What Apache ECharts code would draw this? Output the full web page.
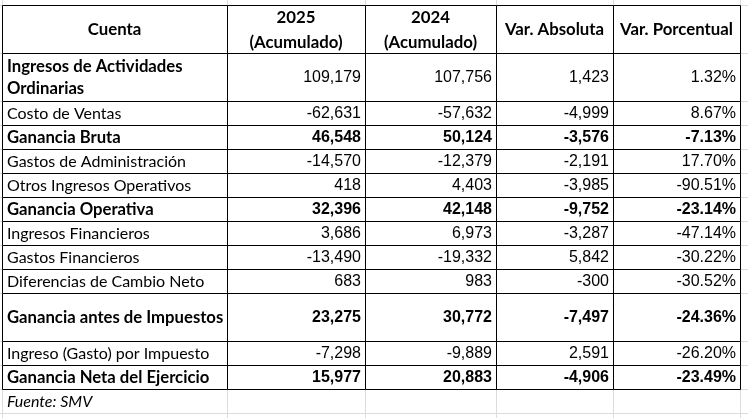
<!DOCTYPE html>
<html>
<head>
<meta charset="utf-8">
<script src="https://cdn.jsdelivr.net/npm/echarts@6/dist/echarts.min.js"></script>
<style>
html, body { margin: 0; padding: 0; background: #fff; }
#chart { width: 748px; height: 418px; }
</style>
</head>
<body>
<div id="chart"></div>
<script>
// datos de la tabla
var encabezados = ["Cuenta", "2025\n(Acumulado)", "2024\n(Acumulado)", "Var. Absoluta", "Var. Porcentual"];
var cuentas = [
    "Ingresos de Actividades Ordinarias", "Costo de Ventas", "Ganancia Bruta",
    "Gastos de Administración", "Otros Ingresos Operativos", "Ganancia Operativa",
    "Ingresos Financieros", "Gastos Financieros", "Diferencias de Cambio Neto",
    "Ganancia antes de Impuestos", "Ingreso (Gasto) por Impuesto", "Ganancia Neta del Ejercicio"
];
var acum2025 = [109179, -62631, 46548, -14570, 418, 32396, 3686, -13490, 683, 23275, -7298, 15977];
var acum2024 = [107756, -57632, 50124, -12379, 4403, 42148, 6973, -19332, 983, 30772, -9889, 20883];
var varAbsoluta = [1423, -4999, -3576, -2191, -3985, -9752, -3287, 5842, -300, -7497, 2591, -4906];
var varPorcentual = [1.32, 8.67, -7.13, 17.70, -90.51, -23.14, -47.14, -30.22, -30.52, -24.36, -26.20, -23.49];
var cuentaNegrita = [true, false, true, false, false, true, false, false, false, true, false, true];
var valorNegrita = [false, false, true, false, false, true, false, false, false, true, false, true];
var fuente = "Fuente: SMV";

// disposicion (unidades de eje)
var bordesCol = [0, 225, 363, 494, 611, 738];
var altoEncabezado = 2;
var altoFilas = [2, 1, 1, 1, 1, 1, 1, 1, 1, 2, 1, 1];

var inicioFila = [];
var acc = altoEncabezado;
altoFilas.forEach(function (h) { inicioFila.push(acc); acc += h; });
var finTabla = acc;

var fontTexto = "'Lato', 'Noto Sans', sans-serif";
var fontNum = "'Liberation Sans', Arial, sans-serif";

function fmtNum(v) { return v.toLocaleString("en-US"); }
function fmtPct(v) { return v.toFixed(2) + "%"; }

function px(v) { return Math.round(v) + 0.5; }

function linea(x1, y1, x2, y2, color) {
    return {
        type: "line",
        shape: { x1: x1, y1: y1, x2: x2, y2: y2 },
        style: { stroke: color, lineWidth: 1 }
    };
}

function celdas(y0, y1, textos, boldLabel, boldNum, header, api) {
    var out = [];
    var top = api.coord([0, y0])[1], bot = api.coord([0, y1])[1];
    var cy = (top + bot) / 2 + 1;
    var alta = (y1 - y0) > 1;
    for (var c = 0; c < textos.length; c++) {
        var xl = api.coord([bordesCol[c], 0])[0], xr = api.coord([bordesCol[c + 1], 0])[0];
        out.push({
            type: "rect",
            shape: { x: px(xl), y: px(top), width: Math.round(xr - xl), height: Math.round(bot - top) },
            style: { fill: "#fff", stroke: "#000", lineWidth: 1 }
        });
        var x, align, font;
        if (header) {
            x = (xl + xr) / 2; align = "center";
            font = "bold 16.8px " + fontTexto;
        } else if (c === 0) {
            x = xl + 5; align = "left";
            font = boldLabel ? "bold 16.7px " + fontTexto : "16px " + fontTexto;
        } else {
            x = xr - 4; align = "right";
            font = (boldNum ? "bold " : "") + "16px " + fontNum;
        }
        var st = {
            text: textos[c], x: x, y: cy, align: align, verticalAlign: "middle",
            font: font, fill: "#000", lineHeight: header ? 25 : 22
        };
        if (alta && !header && c === 0) {
            st.width = xr - xl - 6;
            st.overflow = "break";
        }
        out.push({ type: "text", style: st });
    }
    return out;
}

var chart = echarts.init(document.getElementById("chart"), null, { renderer: "canvas" });

var option = {
    backgroundColor: "#fff",
    animation: false,
    grid: { left: 0, right: 0, top: 0, bottom: 0 },
    xAxis: { type: "value", min: -2, max: 746, show: false },
    yAxis: { type: "value", inverse: true, min: -5 / 24, max: 413 / 24, show: false },
    series: [{
        // cuadricula de fondo tipo hoja de calculo
        type: "custom",
        data: [0],
        silent: true,
        renderItem: function (params, api) {
            var ch = [];
            var gris = "#dcdcdc";
            var yTop = api.coord([0, -1])[1], yBot = api.coord([0, 18])[1];
            bordesCol.forEach(function (b) {
                var x = px(api.coord([b, 0])[0]);
                ch.push(linea(x, yTop, x, yBot, gris));
            });
            var xL = api.coord([-2, 0])[0], xR = api.coord([746, 0])[0];
            var filas = [0, altoEncabezado].concat(inicioFila.slice(1), [finTabla, finTabla + 1]);
            filas.forEach(function (r) {
                var y = px(api.coord([0, r])[1]);
                ch.push(linea(xL, y, xR, y, gris));
            });
            return { type: "group", children: ch };
        },
        z: 1
    }, {
        // tabla
        type: "custom",
        data: [-1].concat(cuentas.map(function (d, i) { return i; })),
        silent: true,
        renderItem: function (params, api) {
            var i = api.value(0);
            var ch;
            if (i < 0) {
                ch = celdas(0, altoEncabezado, encabezados, true, true, true, api);
            } else {
                var textos = [cuentas[i], fmtNum(acum2025[i]), fmtNum(acum2024[i]),
                    fmtNum(varAbsoluta[i]), fmtPct(varPorcentual[i])];
                ch = celdas(inicioFila[i], inicioFila[i] + altoFilas[i], textos,
                    cuentaNegrita[i], valorNegrita[i], false, api);
            }
            return { type: "group", children: ch };
        },
        encode: { x: -1, y: 0 },
        z: 2
    }, {
        // nota de fuente
        type: "custom",
        data: [0],
        silent: true,
        renderItem: function (params, api) {
            var p = api.coord([bordesCol[0], finTabla + 0.5]);
            return {
                type: "text",
                style: {
                    text: fuente, x: p[0] + 5, y: p[1] + 1, align: "left", verticalAlign: "middle",
                    font: "italic 16px " + fontTexto, fill: "#000"
                }
            };
        },
        z: 3
    }]
};

chart.setOption(option);
</script>
</body>
</html>
